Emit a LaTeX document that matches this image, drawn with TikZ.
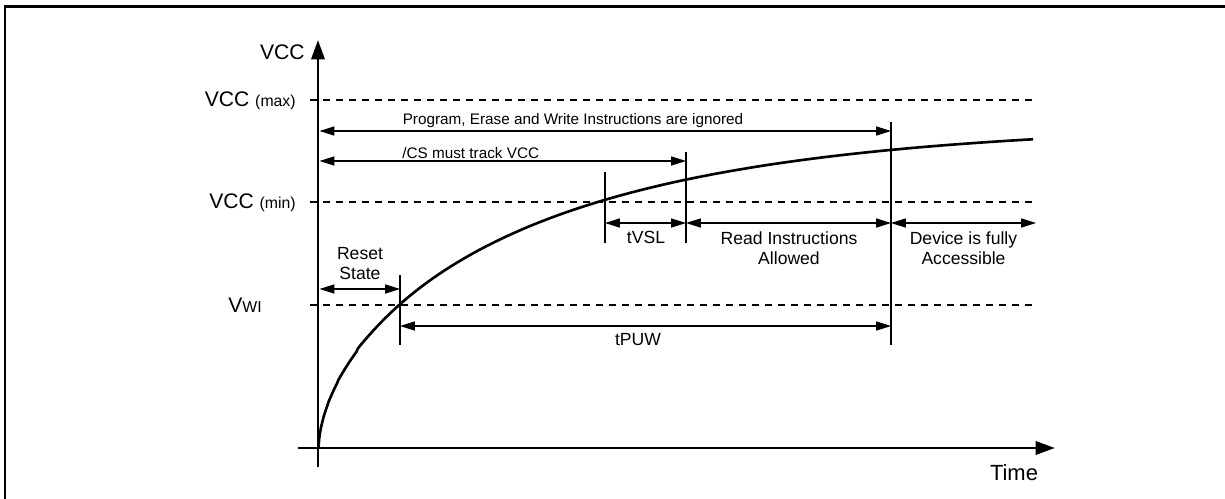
\documentclass[tikz,border=0pt]{standalone}
\usepackage{fontspec}
\setmainfont{Liberation Sans}
\usetikzlibrary{arrows.meta}
\begin{document}
\begin{tikzpicture}[x=0.02cm,y=-0.02cm,
  axis/.style={line width=1.6pt,-{Triangle[length=11pt,width=7.5pt]}},
  dim/.style={line width=0.6pt,{Triangle[length=8.5pt,width=5.2pt]}-{Triangle[length=8.5pt,width=5.2pt]}},
  marker/.style={line width=0.6pt},
  level/.style={line width=0.8pt,dash pattern=on 4pt off 3.4pt},
  lbl/.style={font=\fontsize{8.7pt}{10.5pt}\selectfont,inner sep=0pt,align=center},
  lbb/.style={font=\fontsize{10pt}{11.6pt}\selectfont,inner sep=0pt,align=center},
  big/.style={font=\fontsize{12pt}{14pt}\selectfont,inner sep=0pt},
  curve/.style={line width=1.5pt,line join=round}]
\useasboundingbox (0,0) rectangle (1225,498);
\fill[white] (0,0) rectangle (1225,498);
% frame (left and top edges visible)
\draw[line width=1.2pt] (5,500) -- (5,6.5) -- (1230,6.5);

% coordinates
\coordinate (o) at (318.5,448);
\coordinate (ybot) at (318,467);
\coordinate (ytop) at (318,40);
\coordinate (xl) at (298,448);
\coordinate (xr) at (1055,448);

% dashed levels
\coordinate (max0) at (310,100); \coordinate (max1) at (1035,100);
\coordinate (min0) at (310,202); \coordinate (min1) at (1035,202);
\coordinate (wi0) at (310,305);  \coordinate (wi1) at (1035,305);
\draw[level] (max0) -- (max1);
\draw[level] (min0) -- (min1);
\draw[level] (wi0) -- (wi1);

% axes
\draw[axis] (ybot) -- (ytop);
\draw[axis] (xl) -- (xr);

% curve: h(t) = 325 (1 - exp(-t/290))^0.58, t = 717 s^2
\draw[curve] (o) -- plot[variable=\s,domain=0.03:1,samples=200]
  ({318.5+716.5*\s*\s},{448-325*exp(0.58*ln(max(1-exp(-717*\s*\s/290),0.00001)))});

% vertical markers
\coordinate (m1t) at (891,122); \coordinate (m1b) at (891,345);
\coordinate (m2t) at (686,152); \coordinate (m2b) at (686,243);
\coordinate (m3t) at (605,172); \coordinate (m3b) at (605,243);
\coordinate (m4t) at (400,275); \coordinate (m4b) at (400,345);
\draw[marker] (m1t) -- (m1b);
\draw[marker] (m2t) -- (m2b);
\draw[marker] (m3t) -- (m3b);
\draw[marker] (m4t) -- (m4b);

% dimension arrows
\coordinate (pA) at (319.5,131); \coordinate (pB) at (891,131);
\coordinate (cA) at (319.5,161); \coordinate (cB) at (686,161);
\coordinate (vA) at (605,223);   \coordinate (vB) at (686,223);
\coordinate (rA) at (686,223);   \coordinate (rB) at (891,223);
\coordinate (dA) at (891,223);   \coordinate (dB) at (1036,223);
\coordinate (sA) at (319.5,289); \coordinate (sB) at (400,289);
\coordinate (tA) at (400,326);   \coordinate (tB) at (891,326);
\draw[dim] (pA) -- (pB);
\draw[dim] (cA) -- (cB);
\draw[dim] (vA) -- (vB);
\draw[dim] (rA) -- (rB);
\draw[dim] (dA) -- (dB);
\draw[dim] (sA) -- (sB);
\draw[dim] (tA) -- (tB);

% labels
\node[big,anchor=east] (lvcc) at (305,52) {VCC};
\node[big,anchor=east] (lmax) at (296,101) {VCC {\fontsize{9pt}{10pt}\selectfont (max)}};
\node[big,anchor=east] (lmin) at (296,203) {VCC {\fontsize{9pt}{10pt}\selectfont (min)}};
\node[big,anchor=west] (lwi) at (228,305) {V{\fontsize{9pt}{10pt}\selectfont WI}};
\node[big,font=\fontsize{12.5pt}{14pt}\selectfont] (ltime) at (1014,473) {Time};

\node[lbl] (lprog) at (573,121) {Program, Erase and Write Instructions are ignored};
\node[lbl,anchor=west] (lcs) at (402,153) {/CS must track VCC};
\node[lbb,anchor=north] (ltvsl) at (646,231) {tVSL};
\node[lbb,anchor=north] (lread) at (789,231) {Read Instructions\\Allowed};
\node[lbb,anchor=north] (ldev) at (963.5,231) {Device is fully\\Accessible};
\node[lbb,anchor=south] (lreset) at (360,280) {Reset\\State};
\node[lbb] (ltpuw) at (638,340) {tPUW};
\end{tikzpicture}
\end{document}
